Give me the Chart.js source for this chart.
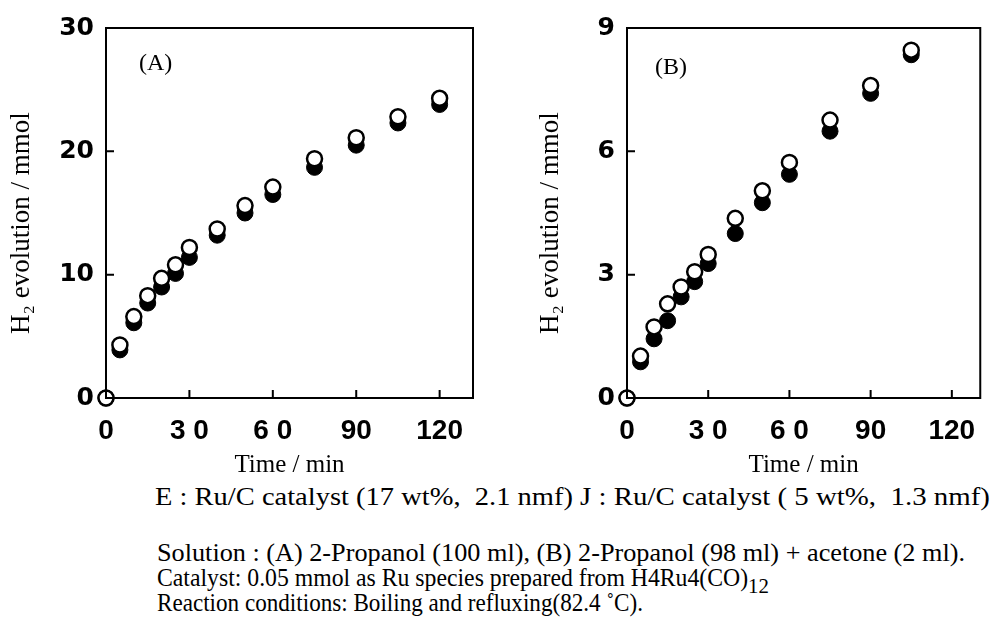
<!DOCTYPE html>
<html>
<head>
<meta charset="utf-8">
<script src="https://cdn.jsdelivr.net/npm/chart.js@4.4.1/dist/chart.umd.min.js"></script>
<style>
  html, body { margin:0; padding:0; background:#fff; }
  #wrap { position:relative; width:992px; height:625px; overflow:hidden; }
  .box { position:absolute; top:0; width:496px; height:480px; }
  .txt { position:absolute; font-family:'Liberation Serif', 'Times New Roman', serif; font-size:25px;
         line-height:26px; color:#000; white-space:pre; transform-origin:0 50%; }
  .txt sub { font-size:22px; vertical-align:-7px; line-height:0; }
</style>
</head>
<body>
<div id="wrap">
  <div class="box" style="left:0"><canvas id="chartA"></canvas></div>
  <div class="box" style="left:496px"><canvas id="chartB"></canvas></div>

  <div class="txt" style="left:139px; top:49px; font-size:24px">(A)</div>
  <div class="txt" style="left:655px; top:53px; font-size:24px">(B)</div>

  <div class="txt" data-w="418" style="left:155px; top:484px">E : Ru/C catalyst (17 wt%,  2.1 nmf)</div>
  <div class="txt" data-w="410" style="left:580px; top:484px">J : Ru/C catalyst ( 5 wt%,  1.3 nmf)</div>
  <div class="txt" data-w="808" style="left:157px; top:540px">Solution : (A) 2-Propanol (100 ml), (B) 2-Propanol (98 ml) + acetone (2 ml).</div>
  <div class="txt" data-w="612" style="left:157px; top:565px">Catalyst: 0.05 mmol as Ru species prepared from H4Ru4(CO)<sub>12</sub></div>
  <div class="txt" data-w="486" style="left:157px; top:590px">Reaction conditions: Boiling and refluxing(82.4 ˚C).</div>
</div>

<script>
// --- data ---
const timeA = [0, 5, 10, 15, 20, 25, 30, 40, 50, 60, 75, 90, 105, 120];
const openA = [0, 4.3, 6.6, 8.3, 9.7, 10.8, 12.2, 13.7, 15.6, 17.1, 19.4, 21.1, 22.8, 24.3];
const fillA = [0, 3.9, 6.1, 7.7, 9.0, 10.1, 11.4, 13.2, 15.0, 16.5, 18.7, 20.5, 22.3, 23.8];

const timeB = [0, 5, 10, 15, 20, 25, 30, 40, 50, 60, 75, 90, 105];
const openB = [0, 1.02, 1.73, 2.29, 2.70, 3.07, 3.49, 4.37, 5.04, 5.73, 6.76, 7.60, 8.46];
const fillB = [0, 0.88, 1.44, 1.88, 2.46, 2.83, 3.27, 4.00, 4.75, 5.44, 6.49, 7.41, 8.35];

const xTicks = [0, 30, 60, 90, 120];
const xTickLabels = ['0', '3 0', '6 0', '90', '120'];
const yTicksA = [0, 10, 20, 30];
const yTicksB = [0, 3, 6, 9];

const pts = (xs, ys) => xs.map((x, i) => ({x, y: ys[i]}));

// frame + inward tick marks
const framePlugin = {
  id: 'frame',
  afterDraw(chart) {
    const {ctx, chartArea: a, scales} = chart;
    ctx.save();
    ctx.strokeStyle = '#000';
    ctx.lineWidth = 2;
    ctx.strokeRect(a.left, a.top, a.right - a.left, a.bottom - a.top);
    ctx.beginPath();
    scales.x.ticks.forEach(t => {
      if (t.value === 0) return;
      const px = scales.x.getPixelForValue(t.value);
      ctx.moveTo(px, a.bottom); ctx.lineTo(px, a.bottom - 8);
    });
    scales.y.ticks.forEach(t => {
      if (t.value === 0 || t.value === scales.y.max) return;
      const py = scales.y.getPixelForValue(t.value);
      ctx.moveTo(a.left, py); ctx.lineTo(a.left + 8, py);
    });
    ctx.stroke();
    ctx.restore();
  }
};

function makePanel(id, times, openVals, fillVals, xMax, yTicks, yAxisW, titlePad, padRight) {
  const yMax = yTicks[yTicks.length - 1];
  return new Chart(document.getElementById(id), {
    type: 'scatter',
    data: {
      datasets: [
        { label: 'open', data: pts(times, openVals), order: 0,
          pointRadius: 7.5, pointHoverRadius: 7.5, pointBorderWidth: 2.5, pointHoverBorderWidth: 2.5,
          pointBackgroundColor: '#fff', pointBorderColor: '#000', clip: false },
        { label: 'filled', data: pts(times, fillVals), order: 1,
          pointRadius: 8, pointHoverRadius: 8, pointBorderWidth: 1,
          pointBackgroundColor: '#000', pointBorderColor: '#000', clip: false },
      ]
    },
    options: {
      responsive: true, maintainAspectRatio: false, animation: false,
      layout: { padding: { top: 28, right: padRight, left: 0, bottom: 0 } },
      plugins: { legend: { display: false }, tooltip: { enabled: false } },
      scales: {
        x: {
          type: 'linear', min: 0, max: xMax,
          grid: { display: false, drawTicks: false },
          border: { display: false },
          afterBuildTicks: s => { s.ticks = xTicks.map(v => ({value: v})); },
          afterFit: s => { s.height = 82; },
          ticks: {
            color: '#000', padding: 16, maxRotation: 0, autoSkip: false,
            font: { family: "'Liberation Sans', Arial, sans-serif", size: 28, weight: 'bold' },
            callback: v => xTickLabels[xTicks.indexOf(v)]
          },
          title: {
            display: true, text: 'Time / min', color: '#000',
            font: { family: "'Liberation Serif', serif", size: 25 },
            padding: 0
          }
        },
        y: {
          type: 'linear', min: 0, max: yMax,
          grid: { display: false, drawTicks: false },
          border: { display: false },
          afterBuildTicks: s => { s.ticks = yTicks.map(v => ({value: v})); },
          afterFit: s => { s.width = yAxisW; },
          ticks: {
            color: '#000', padding: 12,
            font: { family: "'DejaVu Sans', sans-serif", size: 25, weight: 'bold' }
          },
          title: {
            display: true, text: 'H₂ evolution / mmol   ', color: '#000',
            font: { family: "'Liberation Serif', serif", size: 27 },
            padding: titlePad
          }
        }
      }
    },
    plugins: [framePlugin]
  });
}

makePanel('chartA', timeA, openA, fillA, 132, yTicksA, 106, 6, 23);
makePanel('chartB', timeB, openB, fillB, 130.5, yTicksB, 131, 39, 7);

// stretch caption lines to the widths they have in the figure
document.querySelectorAll('.txt[data-w]').forEach(el => {
  const w = el.getBoundingClientRect().width;
  el.style.transform = 'scaleX(' + (+el.dataset.w / w) + ')';
});
</script>
</body>
</html>
